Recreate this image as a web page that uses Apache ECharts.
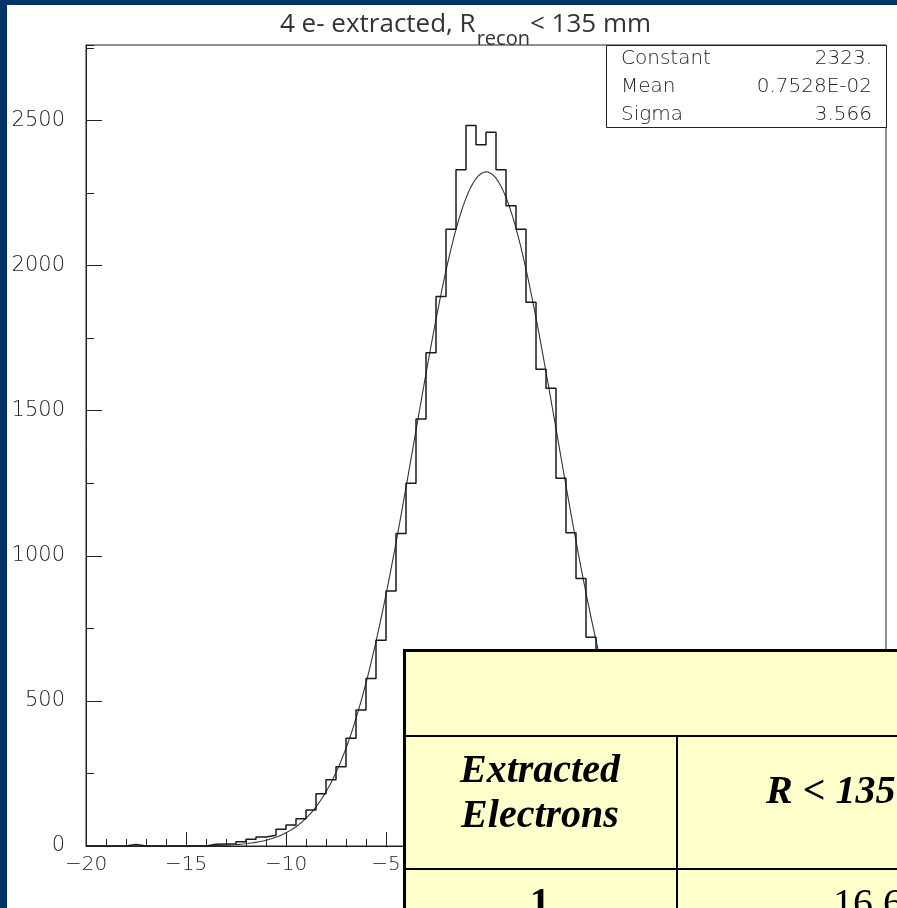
<!DOCTYPE html>
<html>
<head>
<meta charset="utf-8">
<script src="https://cdn.jsdelivr.net/npm/echarts@6/dist/echarts.min.js"></script>
<style>
  html, body { margin: 0; padding: 0; background: #003366; }
  #panel { position: absolute; left: 7px; top: 5px; right: 0; bottom: 0; background: #ffffff; }
  #chart { position: absolute; left: 0; top: 0; width: 897px; height: 908px; }
</style>
</head>
<body>
<div id="panel"></div>
<div id="chart"></div>
<script>
// Histogram: left edge of each 0.5-wide bin and its entries
const binWidth = 0.5;
const binLeftEdges = [
  -20, -19.5, -19, -18.5, -18, -17.5, -17, -16.5, -16, -15.5,
  -15, -14.5, -14, -13.5, -13, -12.5, -12, -11.5, -11, -10.5,
  -10, -9.5, -9, -8.5, -8, -7.5, -7, -6.5, -6, -5.5,
  -5, -4.5, -4, -3.5, -3, -2.5, -2, -1.5, -1, -0.5,
  0, 0.5, 1, 1.5, 2, 2.5, 3, 3.5, 4, 4.5,
  5, 5.5, 6, 6.5, 7, 7.5, 8, 8.5, 9, 9.5,
  10, 10.5, 11, 11.5, 12, 12.5, 13, 13.5, 14, 14.5,
  15, 15.5, 16, 16.5, 17, 17.5, 18, 18.5, 19, 19.5
];
const binCounts = [
  0, 0, 0, 0, 5, 0, 0, 0, 0, 0,
  0, 0, 6, 7, 8, 15, 23, 31, 37, 58,
  72, 94, 124, 180, 228, 273, 371, 469, 577, 709,
  879, 1077, 1250, 1471, 1700, 1893, 2125, 2330, 2483, 2416,
  2459, 2330, 2206, 2125, 1874, 1643, 1577, 1267, 1079, 922,
  719, 590, 465, 372, 282, 215, 168, 122, 96, 70,
  54, 41, 30, 22, 16, 11, 8, 6, 4, 3,
  0, 0, 0, 0, 0, 0, 0, 0, 0, 0
];

// Gaussian fit parameters shown in the statistics box
const fitConstant = 2323.;
const fitMean = 0.7528E-02;
const fitSigma = 3.566;
const statsLabels = ['Constant', 'Mean', 'Sigma'];
const statsValues = ['2323.', '0.7528E-02', '3.566'];

// Axis ranges and ticks
const xMin = -20, xMax = 20, xStep = 5;
const yMin = 0, yMax = 2760, yStep = 500, yMinorStep = 250;

// Overlaid summary table (partially shown)
const tableHeader = ['Extracted\nElectrons', 'R < 135 mm'];
const tableRow1 = ['1', '16.6'];

// Step outline: one point per bin left edge plus the closing right edge
const histPoints = binLeftEdges.map((x, i) => [x, binCounts[i]]);
histPoints.push([binLeftEdges[binLeftEdges.length - 1] + binWidth, binCounts[binCounts.length - 1]]);

// Fit curve evaluated from the fitted parameters
const fitPoints = [];
for (let k = 0; k <= 800; k++) {
  const x = xMin + k * (xMax - xMin) / 800;
  const d = (x - fitMean) / fitSigma;
  fitPoints.push([x, fitConstant * Math.exp(-0.5 * d * d)]);
}

const axisFont = "'DejaVu Sans ExtraLight', 'DejaVu Sans'";
const minus = v => String(v).replace('-', '\u2212');
const plain = v => String(v);

const chart = echarts.init(document.getElementById('chart'), null, { renderer: 'canvas' });

const statsGraphics = [{
  type: 'rect', z: 50,
  shape: { x: 606.5, y: 45.5, width: 280, height: 82 },
  style: { fill: '#ffffff', stroke: '#222', lineWidth: 1 }
}];
statsLabels.forEach((lab, i) => {
  const cy = 59 + i * 28;
  statsGraphics.push({
    type: 'text', z: 51, x: 621, y: cy,
    style: { text: lab, fontFamily: axisFont, fontWeight: 200, fontSize: 20, fill: '#222', align: 'left', verticalAlign: 'middle' }
  });
  statsGraphics.push({
    type: 'text', z: 51, x: 872, y: cy,
    style: { text: statsValues[i], fontFamily: axisFont, fontWeight: 200, fontSize: 20, fill: '#222', align: 'right', verticalAlign: 'middle' }
  });
});

const tableFont = "'Liberation Serif', 'Times New Roman', serif";
const tableGraphics = [
  { type: 'rect', z: 100, shape: { x: 404.5, y: 650.5, width: 600, height: 400 },
    style: { fill: '#FFFFCC', stroke: '#000', lineWidth: 3 } },
  { type: 'line', z: 101, shape: { x1: 404, y1: 736, x2: 897, y2: 736 }, style: { stroke: '#000', lineWidth: 2 } },
  { type: 'line', z: 101, shape: { x1: 404, y1: 869, x2: 897, y2: 869 }, style: { stroke: '#000', lineWidth: 2 } },
  { type: 'line', z: 101, shape: { x1: 677, y1: 736, x2: 677, y2: 908 }, style: { stroke: '#000', lineWidth: 2 } },
  { type: 'text', z: 102, x: 540, y: 794,
    style: { text: tableHeader[0], font: "italic bold 40px " + tableFont, fill: '#000', align: 'center', verticalAlign: 'middle', lineHeight: 45 } },
  { type: 'text', z: 102, x: 766, y: 793,
    style: { text: tableHeader[1], font: "italic bold 40px " + tableFont, fill: '#000', align: 'left', verticalAlign: 'middle' } },
  { type: 'text', z: 102, x: 540, y: 905,
    style: { text: tableRow1[0], font: "bold 40px " + tableFont, fill: '#000', align: 'center', verticalAlign: 'middle' } },
  { type: 'text', z: 102, x: 833, y: 905,
    style: { text: tableRow1[1], font: "40px " + tableFont, fill: '#000', align: 'left', verticalAlign: 'middle' } }
];

const titleGraphic = {
  type: 'text', z: 50, x: 280, y: 12,
  style: {
    text: '{a|4 e- extracted, R}{b|recon}{a|< 135 mm}',
    rich: {
      a: { fontFamily: 'Open Sans', fontSize: 26, fill: '#333', lineHeight: 30, verticalAlign: 'top' },
      b: { fontFamily: 'Open Sans', fontSize: 20, fill: '#333', lineHeight: 20, padding: [17, 0, 0, 1], verticalAlign: 'top' }
    }
  }
};

const yBase = {
  type: 'value', min: yMin, max: yMax, position: 'left',
  splitLine: { show: false }
};

chart.setOption({
  animation: false,
  backgroundColor: 'transparent',
  grid: {
    left: 86, right: 11, top: 45, bottom: 62,
    outerBoundsMode: 'none', containLabel: false,
    show: true, borderColor: '#222', borderWidth: 1, backgroundColor: '#ffffff'
  },
  xAxis: {
    type: 'value', min: xMin, max: xMax, interval: xStep,
    axisLine: { show: true, onZero: false, lineStyle: { color: '#222', width: 1 } },
    axisTick: { show: true, inside: true, length: 14, lineStyle: { color: '#222' } },
    minorTick: { show: true, splitNumber: 5, length: 7, lineStyle: { color: '#222' } },
    axisLabel: { margin: 9, fontSize: 20, fontFamily: axisFont, fontWeight: 200, color: '#222', formatter: minus },
    splitLine: { show: false }
  },
  yAxis: [Object.assign({}, yBase, {
    interval: yStep,
    axisLine: { show: true, onZero: false, lineStyle: { color: '#222', width: 1 } },
    axisTick: { show: true, inside: true, length: 16, lineStyle: { color: '#222' } },
    axisLabel: { margin: 21, fontSize: 21, fontFamily: axisFont, fontWeight: 200, color: '#222', showMaxLabel: false, formatter: plain }
  }), Object.assign({}, yBase, {
    interval: yMinorStep,
    axisLine: { show: false, onZero: false },
    axisTick: { show: true, inside: true, length: 8, lineStyle: { color: '#222' } },
    axisLabel: { show: false }
  })],
  series: [{
    name: 'fit', type: 'line', data: fitPoints, yAxisIndex: 0,
    showSymbol: false, symbol: 'none', z: 2,
    lineStyle: { color: '#333', width: 1.1 }
  }, {
    name: 'histogram', type: 'line', data: histPoints, yAxisIndex: 0,
    step: 'end', showSymbol: false, symbol: 'none', z: 3,
    lineStyle: { color: '#1a1a1a', width: 1.5 }
  }],
  graphic: [titleGraphic].concat(statsGraphics, tableGraphics)
});
</script>
</body>
</html>
